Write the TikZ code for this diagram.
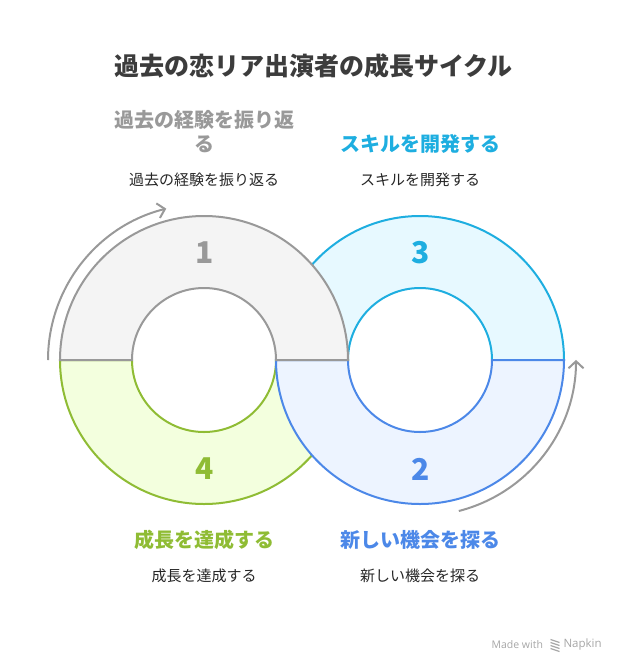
\documentclass[tikz,border=0pt]{standalone}
\usepackage{fontspec}
\setmainfont{Noto Sans CJK JP}
\newfontfamily\latinfont{Open Sans}
\usetikzlibrary{arrows.meta}
\definecolor{titlegray}{HTML}{3C3C3C}
\definecolor{stepgray}{HTML}{999999}
\definecolor{stepblue}{HTML}{4C88E8}
\definecolor{stepcyan}{HTML}{1EAEE0}
\definecolor{stepgreen}{HTML}{8FBC34}
\definecolor{fillgray}{HTML}{F4F4F4}
\definecolor{fillblue}{HTML}{EDF4FF}
\definecolor{fillcyan}{HTML}{E7F9FF}
\definecolor{fillgreen}{HTML}{F3FFDE}
\tikzset{
  ringline/.style={line width=2pt},
  cyclearrow/.style={draw=stepgray, line width=2pt, -{Straight Barb[length=7pt,width=15pt]}},
  headlabel/.style={font=\fontsize{20}{24}\selectfont\bfseries, align=center},
  desclabel/.style={font=\fontsize{15}{18}\selectfont, text=black!85},
  numlabel/.style={font=\fontsize{30}{36}\selectfont\bfseries}
}
\begin{document}
\begin{tikzpicture}[x=1pt,y=-1pt]
    \useasboundingbox (0,0) rectangle (624,672);

    % Title
    \node[font=\fontsize{25}{30}\selectfont\bfseries, text=titlegray] (title) at (313.5,65.5) {過去の恋リア出演者の成長サイクル};

    % Ring 3 (top right)
    \draw[ringline, draw=stepcyan, fill=fillcyan] (276,360) arc[start angle=180, end angle=0, radius=144, y radius=-144]
        -- (492,360) arc[start angle=0, end angle=180, radius=72, y radius=-72] -- cycle;

    % Ring 4 (bottom left)
    \draw[ringline, draw=stepgreen, fill=fillgreen] (60,360) arc[start angle=180, end angle=360, radius=144, y radius=-144]
        -- (276,360) arc[start angle=360, end angle=180, radius=72, y radius=-72] -- cycle;

    % Ring 2 (bottom right)
    \draw[ringline, draw=stepblue, fill=fillblue] (276,360) arc[start angle=180, end angle=360, radius=144, y radius=-144]
        -- (492,360) arc[start angle=360, end angle=180, radius=72, y radius=-72] -- cycle;

    % Ring 1 (top left)
    \draw[ringline, draw=stepgray, fill=fillgray] (60,360) arc[start angle=180, end angle=0, radius=144, y radius=-144]
        -- (276,360) arc[start angle=0, end angle=180, radius=72, y radius=-72] -- cycle;

    % Arrows round the rings
    \draw[cyclearrow] (48,360) arc[start angle=180, end angle=104, radius=156, y radius=-156];
    \draw[cyclearrow] (458.8,511) arc[start angle=-75.6, end angle=0, radius=156, y radius=-156];

    % Numbers
    \node[numlabel, text=stepgray] (num1) at (205,253) {1};
    \node[numlabel, text=stepblue] (num2) at (421,469) {2};
    \node[numlabel, text=stepcyan] (num3) at (421,253) {3};
    \node[numlabel, text=stepgreen] (num4) at (205,469) {4};

    % Headings
    \node[headlabel, text=stepgray] (head1) at (204,132) {過去の経験を振り返\\る};
    \node[headlabel, text=stepcyan] (head3) at (420,144) {スキルを開発する};
    \node[headlabel, text=stepgreen] (head4) at (204,540) {成長を達成する};
    \node[headlabel, text=stepblue] (head2) at (420,540) {新しい機会を探る};

    % Descriptions
    \node[desclabel] (desc1) at (204,180) {過去の経験を振り返る};
    \node[desclabel] (desc3) at (420,180) {スキルを開発する};
    \node[desclabel] (desc4) at (204,576) {成長を達成する};
    \node[desclabel] (desc2) at (420,576) {新しい機会を探る};

    % Watermark
    \node[font=\latinfont\fontsize{10.5}{13}\selectfont, text=black!35, anchor=east] (made) at (546.5,645) {Made with};
    \node[font=\latinfont\fontsize{11.5}{13}\selectfont, text=black!35, anchor=west] (napkin) at (560,645) {Napkin};
    \foreach \yy in {641,644,647,650}
        \draw[black!35, line width=1.2pt] (550.5,\yy-1.5) -- (559.5,\yy+1.5);
\end{tikzpicture}
\end{document}
